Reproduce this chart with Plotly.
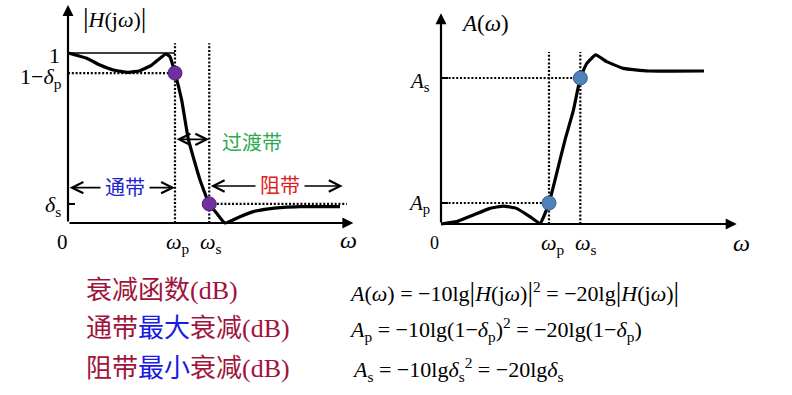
import plotly.graph_objects as go

# ---------------- data ----------------
# left panel: magnitude response |H(jw)|, w normalised so that wp = 1
mag_w = [0, 0.175, 0.299, 0.424, 0.564, 0.673, 0.782, 0.86, 0.916, 0.953, 1.0,
         1.062, 1.125, 1.234, 1.32, 1.39, 1.467, 1.607, 1.732, 1.857, 2.012, 2.168, 2.542]
mag_h = [1.0, 0.969, 0.929, 0.9, 0.886, 0.896, 0.929, 0.969, 0.994, 0.978, 0.882,
         0.724, 0.492, 0.253, 0.112, 0.057, 0.0, 0.037, 0.067, 0.082, 0.092, 0.096, 0.096]
wp_L, ws_L = 1.0, 1.32
level_one, level_1mdp, level_ds = 1.0, 0.882, 0.112

# right panel: attenuation A(w), normalised so that As = 1
att_w = [0, 0.145, 0.3, 0.454, 0.577, 0.7, 0.824, 0.917, 1.0, 1.071, 1.148, 1.225,
         1.29, 1.349, 1.432, 1.534, 1.688, 1.92, 2.435]
att_a = [0, 0.016, 0.062, 0.107, 0.123, 0.107, 0.05, 0.005, 0.144, 0.347, 0.575, 0.776,
         1.0, 1.099, 1.158, 1.112, 1.066, 1.048, 1.048]
wp_R, ws_R = 1.0, 1.29
level_Ap, level_As = 0.144, 1.0

# text
band_labels = ["通带", "过渡带", "阻带"]
row_labels = [
    '衰减函数(dB)',
    '通带<span style="color:#1A1AE6">最大</span>衰减(dB)',
    '阻带<span style="color:#1A1AE6">最小</span>衰减(dB)',
]
BAR = '<span style="font-size:28px">|</span>'
row_formulas = [
    '<i>A</i>(<i>ω</i>) = −10lg' + BAR + '<i>H</i>(j<i>ω</i>)' + BAR + '<sup>2</sup> = −20lg' + BAR + '<i>H</i>(j<i>ω</i>)' + BAR,
    '<i>A</i><sub>p</sub> = −10lg(1−<i>δ</i><sub>p</sub>)<sup>2</sup> = −20lg(1−<i>δ</i><sub>p</sub>)',
    '<i>A</i><sub>s</sub> = −10lg<i>δ</i><sub>s</sub><sup>2</sup> = −20lg<i>δ</i><sub>s</sub>',
]

# ---------------- layout helpers (pixel geometry) ----------------
W, H = 792, 395
SERIF = "Liberation Serif, Times New Roman, serif"
CJK = "Liberation Serif, Noto Sans CJK SC, sans-serif"
RED = "#A0143C"

def dom_x(a, b):
    return [a / W, b / W]

def dom_y(top, bottom):
    return [(H - bottom) / H, (H - top) / H]

fig = go.Figure()

# left axes: origin px (68,223); 107 px per unit in x, 170 px per unit in y
L = dict(ox=68, oy=223, ux=107, uy=170, left=40, right=372, top=0, bottom=255)
# right axes: origin px (441,224); 108 px per unit in x, 146 px per unit in y
R = dict(ox=441, oy=224, ux=108, uy=146, left=405, right=770, top=0, bottom=255)

def axis_pair(p):
    xr = [(p["left"] - p["ox"]) / p["ux"], (p["right"] - p["ox"]) / p["ux"]]
    yr = [(p["oy"] - p["bottom"]) / p["uy"], (p["oy"] - p["top"]) / p["uy"]]
    return xr, yr

xrL, yrL = axis_pair(L)
xrR, yrR = axis_pair(R)

common = dict(visible=False, showgrid=False, zeroline=False, fixedrange=True)
fig.update_layout(
    width=W, height=H, margin=dict(l=0, r=0, t=0, b=0),
    paper_bgcolor="white", plot_bgcolor="rgba(0,0,0,0)", showlegend=False,
    xaxis=dict(domain=dom_x(L["left"], L["right"]), range=xrL, anchor="y", **common),
    yaxis=dict(domain=dom_y(L["top"], L["bottom"]), range=yrL, anchor="x", **common),
    xaxis2=dict(domain=dom_x(R["left"], R["right"]), range=xrR, anchor="y2", **common),
    yaxis2=dict(domain=dom_y(R["top"], R["bottom"]), range=yrR, anchor="x2", **common),
)

DOT = dict(color="black", width=2.2, dash="2px,1.8px")
THIN = dict(color="black", width=1.6)

def line(xs, ys, style, xa="x", ya="y"):
    fig.add_trace(go.Scatter(x=xs, y=ys, mode="lines", line=style, xaxis=xa, yaxis=ya,
                             hoverinfo="skip", cliponaxis=False))

# ---- left panel guides ----
line([0, wp_L], [level_one, level_one], THIN)
line([0, wp_L], [level_1mdp, level_1mdp], DOT)
line([wp_L, wp_L], [0, 1.057], DOT)
line([ws_L, ws_L], [0, 1.057], DOT)
line([ws_L, 2.605], [level_ds, level_ds], DOT)
line([0, 0.065], [level_ds, level_ds], dict(color="black", width=2))

# left curve
fig.add_trace(go.Scatter(x=mag_w, y=mag_h, mode="lines",
                         line=dict(color="black", width=3.2, shape="spline", smoothing=0.4),
                         hoverinfo="skip", xaxis="x", yaxis="y"))
fig.add_trace(go.Scatter(x=[wp_L, ws_L], y=[level_1mdp, level_ds], mode="markers",
                         marker=dict(size=14, color="#7030A0", line=dict(color="#4B1F6F", width=1)),
                         hoverinfo="skip", xaxis="x", yaxis="y"))

# ---- right panel guides ----
line([0, wp_R], [level_Ap, level_Ap], DOT, "x2", "y2")
line([0, ws_R], [level_As, level_As], DOT, "x2", "y2")
line([0, 0.065], [level_As, level_As], dict(color="black", width=2), "x2", "y2")
line([0, 0.065], [level_Ap, level_Ap], dict(color="black", width=2), "x2", "y2")
line([wp_R, wp_R], [0, 1.178], DOT, "x2", "y2")
line([ws_R, ws_R], [0, 1.178], DOT, "x2", "y2")

fig.add_trace(go.Scatter(x=att_w, y=att_a, mode="lines",
                         line=dict(color="black", width=3.2, shape="spline", smoothing=0.4),
                         hoverinfo="skip", xaxis="x2", yaxis="y2"))
fig.add_trace(go.Scatter(x=[wp_R, ws_R], y=[level_Ap, level_As], mode="markers",
                         marker=dict(size=14, color="#4F81BD", line=dict(color="#385D8A", width=1)),
                         hoverinfo="skip", xaxis="x2", yaxis="y2"))

ann = []

def arrow(x0, y0, x1, y1, xa, ya, head=2, width=2.2, size=1.0, both=False):
    ann.append(dict(x=x1, y=y1, ax=x0, ay=y0, xref=xa, yref=ya, axref=xa, ayref=ya,
                    showarrow=True, text="", arrowhead=head, arrowsize=size, arrowwidth=width,
                    arrowcolor="black", arrowside="end+start" if both else "end",
                    startarrowhead=head, startarrowsize=size))

def label(x, y, text, xa, ya, size=21, color="black", xanchor="center", yanchor="middle",
          family=SERIF, bg=None):
    d = dict(x=x, y=y, xref=xa, yref=ya, text=text, showarrow=False, xanchor=xanchor,
             yanchor=yanchor, font=dict(family=family, size=size, color=color))
    if bg:
        d.update(bgcolor=bg, borderpad=4)
    ann.append(d)

# axes arrows
arrow(0, 0, 0, 1.282, "x", "y")
arrow(0, 0, 2.667, 0, "x", "y")
arrow(0, 0, 0, 1.443, "x2", "y2")
arrow(0, 0, 2.738, 0, "x2", "y2")

# band arrows
arrow(0, 0.208, wp_L, 0.208, "x", "y", head=5, width=1.6, size=1.4, both=True)
arrow(wp_L, 0.492, ws_L, 0.492, "x", "y", head=5, width=1.6, size=1.4, both=True)
arrow(ws_L, 0.218, 2.567, 0.218, "x", "y", head=5, width=1.6, size=1.4, both=True)
label(0.533, 0.208, band_labels[0], "x", "y", size=20, color="#2222CC", family=CJK, bg="white")
label(1.717, 0.469, band_labels[1], "x", "y", size=20, color="#2DAA50", family=CJK)
label(1.98, 0.218, band_labels[2], "x", "y", size=20, color="#E02020", family=CJK, bg="white")

# left tick labels
label(-0.055, 0.985, "1", "x", "y", size=22, xanchor="right")
label(-0.04, 0.855, "1−<i>δ</i><sub>p</sub>", "x", "y", size=22, xanchor="right")
label(-0.05, 0.10, "<i>δ</i><sub>s</sub>", "x", "y", size=22, xanchor="right")
label(-0.056, -0.11, "0", "x", "y")
label(1.03, -0.12, "<i>ω</i><sub>p</sub>", "x", "y", size=22)
label(1.34, -0.12, "<i>ω</i><sub>s</sub>", "x", "y", size=22)
label(2.62, -0.1, "<i>ω</i>", "x", "y", size=24)
label(0.43, 1.21, "<span style='font-size:28px'>|</span><i>H</i>(j<i>ω</i>)<span style='font-size:28px'>|</span>",
      "x", "y", size=22)

# right tick labels
label(-0.08, 0.975, "<i>A</i><sub>s</sub>", "x2", "y2", xanchor="right")
label(-0.08, 0.135, "<i>A</i><sub>p</sub>", "x2", "y2", xanchor="right")
label(-0.056, -0.13, "0", "x2", "y2", size=18)
label(1.04, -0.135, "<i>ω</i><sub>p</sub>", "x2", "y2", size=22)
label(1.34, -0.135, "<i>ω</i><sub>s</sub>", "x2", "y2", size=22)
label(2.78, -0.13, "<i>ω</i>", "x2", "y2", size=24)
label(0.41, 1.375, "<i>A</i>(<i>ω</i>)", "x2", "y2", size=23)

# bottom rows
row_y = [290, 328, 368]
form_x = [347, 347, 350]
for i in range(3):
    ann.append(dict(x=84 / W, y=(H - row_y[i]) / H, xref="paper", yref="paper", text=row_labels[i],
                    showarrow=False, xanchor="left", yanchor="middle",
                    font=dict(family=CJK, size=26, color=RED)))
    ann.append(dict(x=form_x[i] / W, y=(H - row_y[i] - 1) / H, xref="paper", yref="paper",
                    text=row_formulas[i], showarrow=False, xanchor="left", yanchor="middle",
                    font=dict(family=SERIF, size=22, color="black")))

fig.update_layout(annotations=ann)
fig.write_html("out.html", config={"displayModeBar": False, "staticPlot": True},
               post_script="document.body.style.margin='0';document.body.style.overflow='hidden';")
